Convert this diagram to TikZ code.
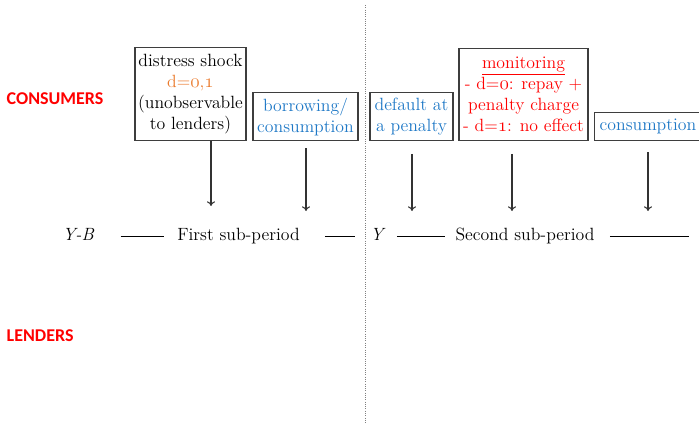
\documentclass[tikz,border=0pt]{standalone}
\usepackage{fontspec}
\usepackage{xcolor}
\newfontfamily\sidefont{Carlito}
\usetikzlibrary{arrows.meta,positioning}
\definecolor{sideRed}{RGB}{255,0,0}
\definecolor{actBlue}{RGB}{30,120,198}
\definecolor{shockOrange}{RGB}{234,122,44}
\definecolor{boxGray}{RGB}{62,62,62}
\newcommand{\osdigit}[1]{{\usefont{OML}{cmm}{m}{it}#1}}

\begin{document}
\begin{tikzpicture}[x=0.75pt,y=-0.75pt,
    event/.style={draw=boxGray, line width=0.9pt, align=center, inner sep=1pt,
        anchor=south, font=\fontsize{13.3}{15.75}\selectfont},
    side/.style={anchor=west, text=sideRed, font=\sidefont\bfseries\fontsize{13.5}{16}\selectfont},
    tick/.style={draw=black!80, line width=0.8pt, -{To[length=3.5pt,width=6pt]}},
    period/.style={inner sep=0pt, text height=1.6ex, text depth=0pt,
        font=\fontsize{13.3}{15}\selectfont},
    timeline/.style={draw=black, line width=0.75pt}]
    \useasboundingbox (0,0) rectangle (699,424);

    % sides
    \node[side] (cons) at (2,99) {CONSUMERS};
    \node[side] (lend) at (2,336) {LENDERS};

    % divider between the sub-periods
    \coordinate (divtop) at (365,5);
    \coordinate (divbot) at (365,424);
    \draw[densely dotted, gray, line width=0.7pt] (divtop) -- (divbot);

    % events
    \node[event, minimum width=83.25pt, minimum height=69.75pt] (shock) at (190.5,141)
        {distress shock\\ \textcolor{shockOrange}{d=\osdigit{0},\osdigit{1}}\\ (unobservable\\ to lenders)};
    \node[event, text=actBlue, minimum width=78.75pt, minimum height=36pt] (borrow) at (305.5,141.5)
        {borrowing/\\ consumption};
    \node[event, text=actBlue, minimum width=62.25pt, minimum height=36pt] (default) at (411.5,141)
        {default at\\ a penalty};
    \node[event, text=sideRed, minimum width=96.75pt, minimum height=69pt] (monitor) at (523.5,141)
        {\underline{monitoring}\\ - d=\osdigit{0}: repay +\\ penalty charge\\ - d=\osdigit{1}: no effect};
    \node[event, text=actBlue, minimum width=80pt, minimum height=21pt] (consume) at (648,141.5)
        {consumption};

    % timeline
    \node[period] (yb) at (78.5,236) {\textit{Y-B}};
    \node[period] (first) at (238.5,236) {First sub-period};
    \node[period] (y) at (378,236) {\textit{Y}};
    \node[period] (second) at (525,236) {Second sub-period};
    \coordinate (tlend) at (689,236);
    \draw[timeline, shorten <=19.5pt, shorten >=9.75pt] (yb) -- (first);
    \draw[timeline, shorten <=18.75pt, shorten >=11.25pt] (first) -- (y);
    \draw[timeline, shorten <=8.25pt, shorten >=7.5pt] (y) -- (second);
    \draw[timeline, shorten <=11.25pt] (second) -- (tlend);

    % arrows onto the timeline
    \coordinate (t1) at (211,206);
    \coordinate (t2) at (306,211);
    \coordinate (t3) at (412,211);
    \coordinate (t4) at (512,211);
    \coordinate (t5) at (648,211);
    \draw[tick] (shock.south -| t1) -- (t1);
    \draw[tick] (borrow.south -| t2) ++(0,7) -- (t2);
    \draw[tick] (default.south -| t3) ++(0,13) -- (t3);
    \draw[tick] (monitor.south -| t4) ++(0,13) -- (t4);
    \draw[tick] (consume.south -| t5) ++(0,11) -- (t5);
\end{tikzpicture}
\end{document}
